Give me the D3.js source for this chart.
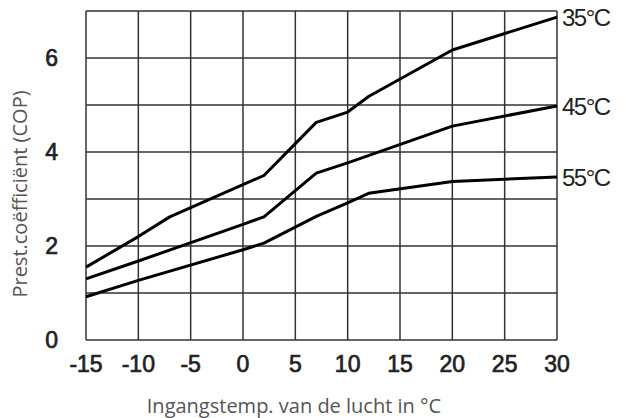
<!DOCTYPE html>
<html>
<head>
<meta charset="utf-8">
<script src="https://cdn.jsdelivr.net/npm/d3@7"></script>
<style>
  body { margin: 0; background: #fff; }
</style>
</head>
<body>
<div id="chart"></div>
<script>
// outside air temperature (°C) and COP per supply temperature
var curveLabels = ["35°C", "45°C", "55°C"];
var temps35 = [-15, -10, -7, 2, 7, 10, 12, 20, 30];
var cop35 = [1.55, 2.2, 2.62, 3.5, 4.63, 4.85, 5.18, 6.17, 6.87];
var temps45 = [-15, -10, 0, 2, 7, 10, 20, 30];
var cop45 = [1.3, 1.68, 2.46, 2.62, 3.55, 3.77, 4.55, 4.98];
var temps55 = [-15, -10, 0, 2, 7, 10, 12, 20, 30];
var cop55 = [0.92, 1.27, 1.92, 2.06, 2.63, 2.92, 3.12, 3.37, 3.47];
var xTicks = [-15, -10, -5, 0, 5, 10, 15, 20, 25, 30];
var yTicks = [0, 2, 4, 6];
var yGrid = [0, 1, 2, 3, 4, 5, 6, 7];

var width = 625, height = 418;
var margin = { left: 86, right: 68, top: 11, bottom: 78 };

var svg = d3.select("#chart").append("svg")
    .attr("width", width)
    .attr("height", height);

var x = d3.scaleLinear()
    .domain([-15, 30])
    .range([margin.left, width - margin.right]);

var y = d3.scaleLinear()
    .domain([0, 7])
    .range([height - margin.bottom, margin.top]);

// grid
var grid = svg.append("g");
grid.selectAll("line.v")
    .data(xTicks)
    .enter().append("line")
    .attr("x1", function (d) { return x(d); })
    .attr("x2", function (d) { return x(d); })
    .attr("y1", y(0))
    .attr("y2", y(7))
    .attr("stroke", "#333")
    .attr("stroke-width", 1.5);

grid.selectAll("line.h")
    .data(yGrid)
    .enter().append("line")
    .attr("x1", x(-15))
    .attr("x2", x(30))
    .attr("y1", function (d) { return y(d); })
    .attr("y2", function (d) { return y(d); })
    .attr("stroke", "#333")
    .attr("stroke-width", 1.5);

// tick labels: regular face thickened a little, like the blurry original
function tickStyle(sel) {
    sel.style("font-family", "Liberation Sans, Arial, sans-serif")
        .style("font-size", "23px")
        .style("fill", "#222")
        .style("stroke", "#222")
        .style("stroke-width", 0.7);
}

svg.append("g").selectAll("text")
    .data(xTicks)
    .enter().append("text")
    .attr("x", function (d) { return x(d); })
    .attr("y", y(0) + 32)
    .attr("text-anchor", "middle")
    .call(tickStyle)
    .text(function (d) { return d; });

svg.append("g").selectAll("text")
    .data(yTicks)
    .enter().append("text")
    .attr("x", 58)
    .attr("y", function (d) { return y(d) + 8; })
    .attr("text-anchor", "end")
    .call(tickStyle)
    .text(function (d) { return d; });

// curves
var series = [
    { label: curveLabels[0], t: temps35, v: cop35 },
    { label: curveLabels[1], t: temps45, v: cop45 },
    { label: curveLabels[2], t: temps55, v: cop55 }
];

var line = d3.line()
    .x(function (d) { return x(d[0]); })
    .y(function (d) { return y(d[1]); });

series.forEach(function (s) {
    var pts = s.t.map(function (t, i) { return [t, s.v[i]]; });
    svg.append("path")
        .datum(pts)
        .attr("fill", "none")
        .attr("stroke", "#000")
        .attr("stroke-width", 3)
        .attr("stroke-linejoin", "round")
        .attr("d", line);

    var last = pts[pts.length - 1];
    svg.append("text")
        .attr("x", x(last[0]) + 5)
        .attr("y", y(last[1]) + 9)
        .style("font-family", "Liberation Sans, Arial, sans-serif")
        .style("font-size", "24px")
        .style("letter-spacing", "-1.5px")
        .style("fill", "#222")
        .text(s.label);
});

// axis titles
svg.append("text")
    .attr("transform", "translate(27," + 194 + ") rotate(-90)")
    .attr("text-anchor", "middle")
    .style("font-family", "Open Sans, sans-serif")
    .style("font-size", "20px")
    .style("fill", "#555")
    .text("Prest.coëfficiënt (COP)");

svg.append("text")
    .attr("x", 294)
    .attr("y", 413)
    .attr("text-anchor", "middle")
    .style("font-family", "Open Sans, sans-serif")
    .style("font-size", "20px")
    .style("fill", "#555")
    .text("Ingangstemp. van de lucht in °C");
</script>
</body>
</html>
